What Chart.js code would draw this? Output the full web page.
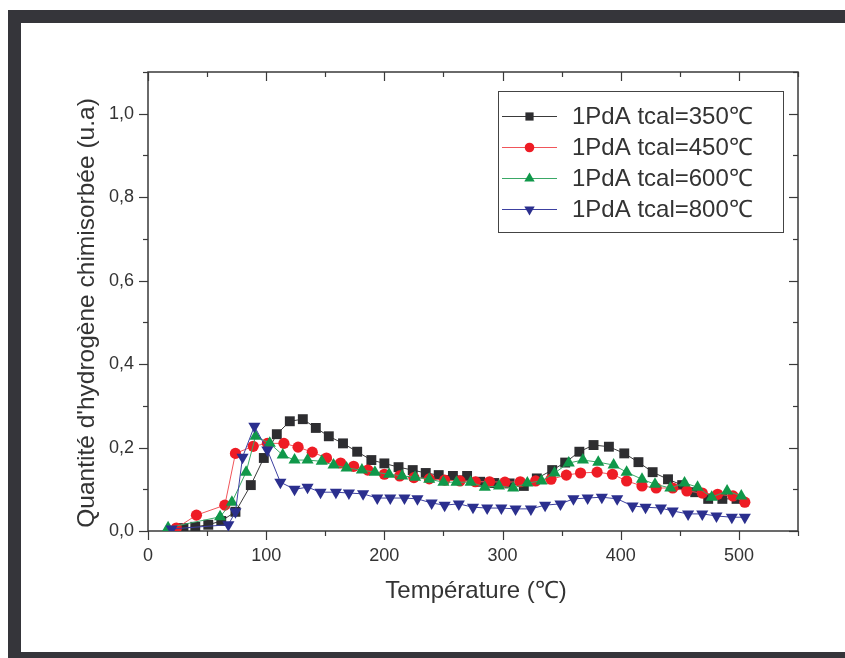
<!DOCTYPE html>
<html><head><meta charset="utf-8">
<script src="https://cdn.jsdelivr.net/npm/chart.js@4.4.0/dist/chart.umd.min.js"></script>
<style>
html,body{margin:0;padding:0;background:#fff;width:845px;height:658px;overflow:hidden;}
#wrap{position:relative;width:845px;height:658px;}
.bar{position:absolute;background:#35353a;}
canvas{position:absolute;left:0;top:0;}
</style></head><body>
<div id="wrap">
<div class="bar" style="left:8px;top:10px;width:837px;height:13px"></div>
<div class="bar" style="left:8px;top:10px;width:13px;height:648px"></div>
<div class="bar" style="left:8px;top:652px;width:837px;height:6px"></div>
<canvas id="c" width="845" height="658"></canvas>
</div>
<script>
const seriesLabels = ["1PdA tcal=350\u2103","1PdA tcal=450\u2103","1PdA tcal=600\u2103","1PdA tcal=800\u2103"];
const xTitle = "Température (\u2103)";
const yTitle = "Quantité d'hydrogène chimisorbée (u.a)";

const x350 = [30,40,51,62,74,87,98,109,120,131,142,153,165,177,189,200,212,224,235,246,258,270,281,293,306,318,329,342,353,365,377,390,403,415,427,440,452,463,474,486,498];
const y350 = [0.007,0.010,0.015,0.024,0.046,0.110,0.175,0.232,0.263,0.268,0.247,0.227,0.210,0.190,0.170,0.162,0.153,0.146,0.139,0.134,0.132,0.132,0.118,0.115,0.114,0.108,0.126,0.146,0.164,0.190,0.206,0.202,0.186,0.165,0.141,0.124,0.110,0.093,0.077,0.077,0.077];

const x450 = [24,41,65,74,89,101,115,127,139,151,163,174,186,200,213,225,238,251,264,277,289,302,315,328,341,354,366,380,393,405,418,430,444,456,469,482,495,505];
const y450 = [0.007,0.038,0.062,0.186,0.203,0.210,0.210,0.201,0.189,0.175,0.163,0.155,0.146,0.136,0.132,0.128,0.125,0.122,0.120,0.118,0.118,0.117,0.118,0.120,0.124,0.134,0.139,0.141,0.136,0.120,0.108,0.103,0.103,0.096,0.091,0.088,0.084,0.069];

const x600 = [17,61,71,83,91,103,114,124,135,147,157,168,181,192,204,215,226,238,250,261,273,285,297,309,321,333,344,356,368,381,394,405,418,429,442,454,465,477,490,502];
const y600 = [0.008,0.034,0.069,0.141,0.227,0.210,0.182,0.170,0.170,0.167,0.158,0.151,0.146,0.141,0.136,0.132,0.129,0.124,0.117,0.117,0.117,0.105,0.108,0.103,0.115,0.120,0.139,0.163,0.170,0.165,0.158,0.141,0.124,0.112,0.103,0.115,0.105,0.081,0.096,0.084];

const x800 = [20,68,74,80,90,101,112,124,135,146,159,170,182,194,205,217,228,240,251,263,275,287,299,311,324,336,349,360,372,384,397,410,421,434,444,457,469,481,494,505];
const y800 = [0.005,0.015,0.046,0.177,0.251,0.194,0.117,0.100,0.105,0.093,0.093,0.091,0.089,0.079,0.079,0.079,0.077,0.067,0.062,0.065,0.057,0.055,0.055,0.053,0.053,0.062,0.065,0.077,0.079,0.081,0.077,0.060,0.057,0.055,0.048,0.041,0.041,0.036,0.033,0.033];

const xTickValues = [0,100,200,300,400,500];
const yTickValues = [0,0.2,0.4,0.6,0.8,1.0];

const colors = ['#2d2d30','#ee1c25','#10984a','#2b2f8e'];
const lineColors = ['#3a3a3a','#f0555a','#3aa866','#3c40a0'];
const styles = [
  {pointStyle:'rect', radius:7, rotation:0},
  {pointStyle:'circle', radius:5.6, rotation:0},
  {pointStyle:'triangle', radius:7, rotation:0},
  {pointStyle:'triangle', radius:7, rotation:180}
];
const xs=[x350,x450,x600,x800], ys=[y350,y450,y600,y800];

const datasets = xs.map((xa,i)=>({
  label: seriesLabels[i],
  data: xa.map((v,j)=>({x:v,y:ys[i][j]})),
  borderColor: lineColors[i],
  backgroundColor: colors[i],
  pointBackgroundColor: colors[i],
  pointBorderColor: colors[i],
  pointBorderWidth: 0,
  borderWidth: 1,
  pointStyle: styles[i].pointStyle,
  pointRadius: styles[i].radius,
  pointRotation: styles[i].rotation,
  showLine: true,
  tension: 0,
  order: 4-i
}));

const FONT = "'Liberation Sans', Arial, Helvetica, sans-serif";

function marker(ctx, style, x, y, r, color){
  ctx.fillStyle=color;
  ctx.beginPath();
  if(style.pointStyle==='rect'){ const s=r*Math.SQRT1_2; ctx.rect(x-s,y-s,2*s,2*s); }
  else if(style.pointStyle==='circle'){ ctx.arc(x,y,r,0,Math.PI*2); }
  else {
    let rad = style.rotation*Math.PI/180;
    for(let k=0;k<3;k++){
      const px=x+Math.sin(rad)*r, py=y-Math.cos(rad)*r;
      if(k===0) ctx.moveTo(px,py); else ctx.lineTo(px,py);
      rad += 2*Math.PI/3;
    }
    ctx.closePath();
  }
  ctx.fill();
}

const frame = {
  id:'frame',
  beforeDatasetsDraw(chart){
    const {ctx, chartArea:a, scales:{x,y}} = chart;
    ctx.save();
    ctx.strokeStyle='#3a3a3a';
    ctx.lineWidth=1.5;
    ctx.strokeRect(a.left,a.top,a.right-a.left,a.bottom-a.top);
    ctx.lineWidth=1.2;
    const ln=(x1,y1,x2,y2)=>{ctx.beginPath();ctx.moveTo(x1,y1);ctx.lineTo(x2,y2);ctx.stroke();};
    for(let v=0; v<=x.max+0.001; v+=50){
      const px=Math.round(x.getPixelForValue(v))+0.5;
      const L=(v%100===0)?9:5;
      ln(px,a.bottom,px,a.bottom+L);
      ln(px,a.top,px,a.top+L);
    }
    for(let k=0; k<=Math.round(y.max*10); k++){
      const py=Math.round(y.getPixelForValue(k/10))+0.5;
      const L=(k%2===0)?9:5;
      ln(a.left-L,py,a.left,py);
      ln(a.right-L,py,a.right,py);
    }
    ctx.restore();
  },
  afterDraw(chart){
    const {ctx, chartArea:a} = chart;
    ctx.save();
    ctx.fillStyle='#333';
    ctx.font = "24px "+FONT;
    ctx.textAlign='center'; ctx.textBaseline='middle';
    ctx.fillText(xTitle, (a.left+a.right)/2+3, 591);
    ctx.save();
    ctx.font = "24.5px "+FONT;
    ctx.translate(87, 313);
    ctx.rotate(-Math.PI/2);
    ctx.fillText(yTitle, 0, 0);
    ctx.restore();
    // legend
    const bx=498, by=91, bw=285, bh=141;
    ctx.fillStyle='#fff';
    ctx.fillRect(bx,by,bw,bh);
    ctx.strokeStyle='#444'; ctx.lineWidth=1;
    ctx.strokeRect(bx+0.5,by+0.5,bw,bh);
    ctx.font = "24px "+FONT;
    ctx.textAlign='left';
    for(let i=0;i<4;i++){
      const cy = 116 + i*31;
      ctx.strokeStyle=lineColors[i]; ctx.lineWidth=1;
      ctx.beginPath(); ctx.moveTo(502,cy+0.5); ctx.lineTo(557,cy+0.5); ctx.stroke();
      const r = styles[i].pointStyle==='circle'?4.8:(styles[i].pointStyle==='rect'?5.8:6);
      marker(ctx, styles[i], 529.5, cy+0.5, r, colors[i]);
      ctx.fillStyle='#333';
      ctx.fillText(seriesLabels[i], 572, cy+1);
    }
    ctx.restore();
  }
};

new Chart(document.getElementById('c'), {
  type:'line',
  data:{datasets},
  options:{
    responsive:false,
    animation:false,
    devicePixelRatio:1,
    layout:{padding:{left:0,top:72,right:47,bottom:0}},
    plugins:{legend:{display:false},tooltip:{enabled:false}},
    scales:{
      x:{
        type:'linear', min:0, max:550,
        afterFit(s){ s.height=127; },
        grid:{display:false, drawTicks:false},
        border:{display:false},
        afterBuildTicks(s){ s.ticks = xTickValues.map(v=>({value:v})); },
        ticks:{padding:14, color:'#333', font:{family:FONT,size:18}, maxRotation:0, autoSkip:false,
          callback:(v)=>String(v)}
      },
      y:{
        type:'linear', min:0, max:1.1,
        afterFit(s){ s.width=148; },
        grid:{display:false, drawTicks:false},
        border:{display:false},
        afterBuildTicks(s){ s.ticks = yTickValues.map(v=>({value:v})); },
        ticks:{padding:14, color:'#333', font:{family:FONT,size:18}, autoSkip:false,
          callback:(v)=>Number(v).toFixed(1).replace('.',',')}
      }
    }
  },
  plugins:[frame]
});
</script>
</body></html>
